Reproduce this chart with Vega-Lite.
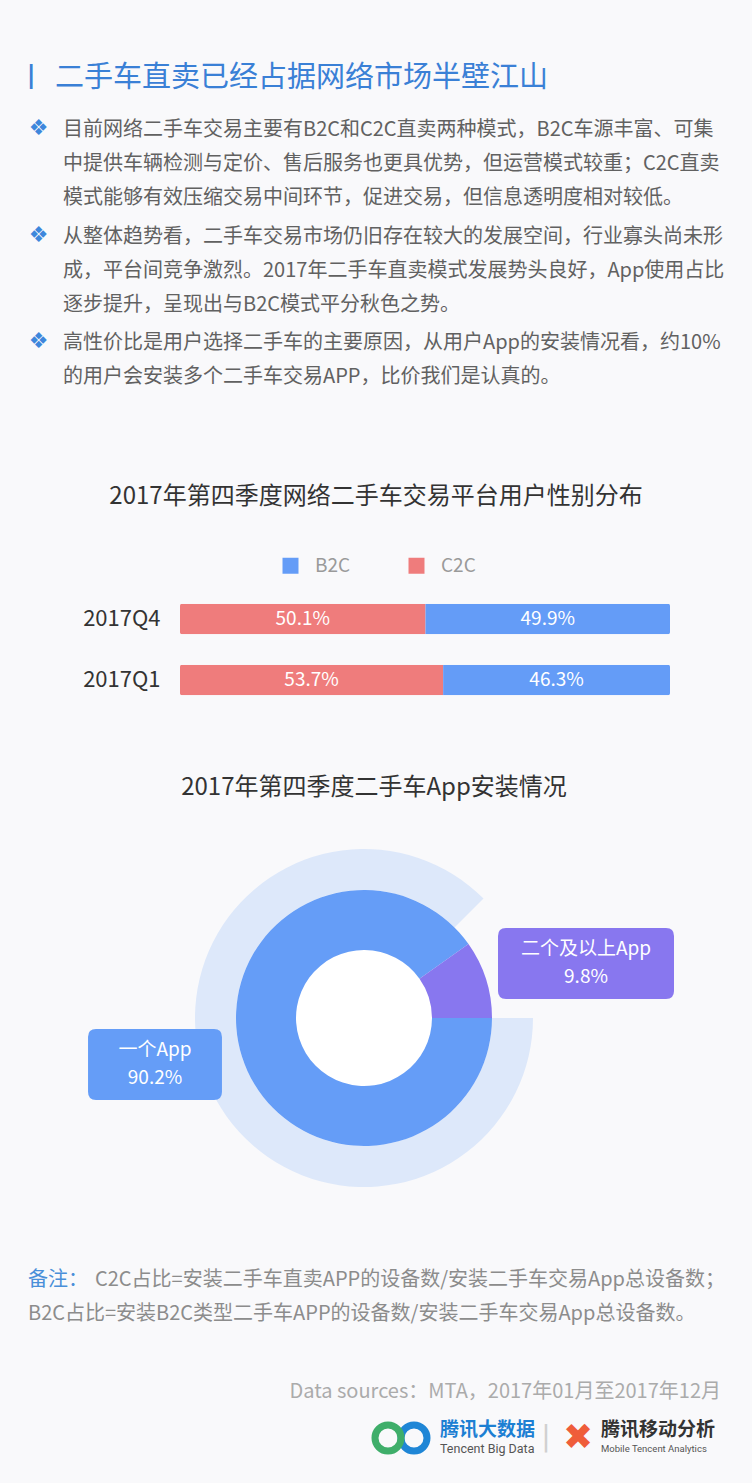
{
  "$schema": "https://vega.github.io/schema/vega-lite/v6.json",
  "background": "#f9f9fb",
  "padding": 0,
  "spacing": 0,
  "resolve": {"scale": {"color": "independent", "size": "independent", "shape": "independent"}, "legend": {"color": "independent"}},
  "config": {
    "view": {"stroke": null},
    "font": "Noto Sans CJK SC",
    "text": {"font": "Noto Sans CJK SC"},
    "title": {"font": "Noto Sans CJK SC", "fontWeight": "normal", "fontSize": 24, "color": "#333333"},
    "concat": {"spacing": 0}
  },
  "datasets": {
    "paragraphs": [
      {"para": 1, "lines": ["目前网络二手车交易主要有B2C和C2C直卖两种模式，B2C车源丰富、可集", "中提供车辆检测与定价、售后服务也更具优势，但运营模式较重；C2C直卖", "模式能够有效压缩交易中间环节，促进交易，但信息透明度相对较低。"]},
      {"para": 2, "lines": ["从整体趋势看，二手车交易市场仍旧存在较大的发展空间，行业寡头尚未形", "成，平台间竞争激烈。2017年二手车直卖模式发展势头良好，App使用占比", "逐步提升，呈现出与B2C模式平分秋色之势。"]},
      {"para": 3, "lines": ["高性价比是用户选择二手车的主要原因，从用户App的安装情况看，约10%", "的用户会安装多个二手车交易APP，比价我们是认真的。"]}
    ],
    "platform": [
      {"quarter": "2017Q4", "type": "C2C", "share": 0.501},
      {"quarter": "2017Q4", "type": "B2C", "share": 0.499},
      {"quarter": "2017Q1", "type": "C2C", "share": 0.537},
      {"quarter": "2017Q1", "type": "B2C", "share": 0.463}
    ],
    "install": [
      {"app": "一个App", "share": 0.902},
      {"app": "二个及以上App", "share": 0.098}
    ],
    "logos": [
      {"brand": "腾讯大数据", "en": "Tencent Big Data"},
      {"brand": "腾讯移动分析", "en": "Mobile Tencent Analytics"}
    ]
  },
  "vconcat": [
    {
      "width": 752,
      "height": 485,
      "resolve": {"scale": {"x": "independent", "y": "independent"}},
      "layer": [
        {
          "data": {"values": [{"heading": "二手车直卖已经占据网络市场半壁江山"}]},
          "mark": {"type": "text", "align": "left", "baseline": "middle", "fontSize": 29, "color": "#3a80d6"},
          "encoding": {
            "x": {"field": "heading", "type": "nominal", "scale": {"type": "point", "range": [55, 55], "padding": 0}, "axis": null},
            "y": {"field": "heading", "type": "nominal", "scale": {"type": "point", "range": [78, 78], "padding": 0}, "axis": null},
            "text": {"field": "heading"}
          }
        },
        {
          "data": {"values": [{"marker": "|"}]},
          "mark": {"type": "text", "align": "center", "baseline": "middle", "font": "DejaVu Sans", "fontWeight": "bold", "fontSize": 24, "color": "#3a80d6"},
          "encoding": {
            "x": {"field": "marker", "type": "nominal", "scale": {"type": "point", "range": [31, 31], "padding": 0}, "axis": null},
            "y": {"field": "marker", "type": "nominal", "scale": {"type": "point", "range": [76, 76], "padding": 0}, "axis": null},
            "text": {"field": "marker"}
          }
        },
        {
          "data": {"name": "paragraphs"},
          "mark": {"type": "text", "text": "❖", "align": "center", "baseline": "middle", "font": "DejaVu Sans", "fontSize": 22, "color": "#3d87dc"},
          "encoding": {
            "x": {"field": "para", "type": "ordinal", "scale": {"type": "point", "range": [38.5, 38.5], "padding": 0}, "axis": null},
            "y": {"field": "para", "type": "ordinal", "scale": {"type": "point", "range": [128, 341], "padding": 0}, "axis": null}
          }
        },
        {
          "data": {"name": "paragraphs"},
          "mark": {"type": "text", "align": "left", "baseline": "top", "fontSize": 20, "lineHeight": 34, "color": "#616161"},
          "encoding": {
            "x": {"field": "para", "type": "ordinal", "scale": {"type": "point", "range": [63, 63], "padding": 0}, "axis": null},
            "y": {"field": "para", "type": "ordinal", "scale": {"type": "point", "range": [120, 333], "padding": 0}, "axis": null},
            "text": {"field": "lines"}
          }
        }
      ]
    },
    {
      "title": {"text": "2017年第四季度网络二手车交易平台用户性别分布", "offset": 11, "anchor": "middle"},
      "width": 752,
      "height": 256,
      "data": {"name": "platform"},
      "layer": [
        {
          "mark": {"type": "bar", "cornerRadius": 2},
          "encoding": {
            "y": {"field": "quarter", "type": "nominal", "scale": {"domain": ["2017Q4", "2017Q1"], "range": [68.5, 190.5], "paddingInner": 0.5, "paddingOuter": 0.25},
                  "axis": {"title": null, "domain": false, "ticks": false, "labelFontSize": 22, "labelColor": "#333333", "labelPadding": 6, "offset": -166, "labelFont": "Noto Sans CJK SC"}},
            "x": {"field": "share", "type": "quantitative", "stack": "zero", "scale": {"domain": [0, 1], "range": [180, 670]}, "axis": null},
            "order": {"field": "type", "sort": "descending"},
            "color": {"field": "type", "type": "nominal", "scale": {"domain": ["B2C", "C2C"], "range": ["#649cf7", "#ef7c7c"]},
                      "legend": {"orient": "none", "legendX": 281, "legendY": 36, "direction": "horizontal", "title": null, "symbolType": "square", "symbolSize": 256, "symbolStrokeWidth": 0, "symbolOpacity": 1, "labelFontSize": 19, "labelColor": "#9a9a9a", "labelOffset": 15, "columnPadding": 56, "padding": 0, "labelFont": "Noto Sans CJK SC"}}
          }
        },
        {
          "mark": {"type": "text", "color": "white", "fontSize": 19, "align": "center", "baseline": "middle"},
          "encoding": {
            "y": {"field": "quarter", "type": "nominal"},
            "x": {"field": "share", "type": "quantitative", "stack": "zero", "bandPosition": 0.5},
            "order": {"field": "type", "sort": "descending"},
            "detail": {"field": "type"},
            "text": {"field": "share", "type": "quantitative", "format": ".1%"}
          }
        }
      ]
    },
    {
      "title": {"text": "2017年第四季度二手车App安装情况", "offset": 10, "anchor": "middle", "dx": 10},
      "width": 728,
      "height": 416,
      "data": {"name": "install"},
      "layer": [
        {
          "data": {"values": [{"ring": "背景"}]},
          "mark": {"type": "arc", "theta": 1.5708, "theta2": 7.0686, "radius": 169, "innerRadius": 128, "color": "#dde8fa"},
          "encoding": {}
        },
        {
          "data": {"values": [{"ring": "中心"}]},
          "mark": {"type": "arc", "theta": 0, "theta2": 6.2832, "radius": 68, "innerRadius": 0, "color": "#ffffff"},
          "encoding": {}
        },
        {
          "mark": {"type": "arc", "radius": 128, "innerRadius": 68},
          "encoding": {
            "theta": {"field": "share", "type": "quantitative", "stack": true, "scale": {"domain": [0, 1], "range": [1.5708, 7.854]}},
            "color": {"field": "app", "type": "nominal", "scale": {"domain": ["一个App", "二个及以上App"], "range": ["#659df7", "#8877ef"]}, "legend": null},
            "order": {"field": "app", "sort": "ascending"}
          }
        },
        {
          "mark": {"type": "point", "filled": true, "opacity": 1, "size": 30976, "strokeWidth": 0},
          "encoding": {
            "x": {"field": "app", "type": "nominal", "scale": {"type": "point", "domain": ["一个App", "二个及以上App"], "range": [155, 586], "padding": 0}, "axis": null},
            "y": {"field": "app", "type": "nominal", "scale": {"type": "point", "domain": ["二个及以上App", "一个App"], "range": [153.5, 254.5], "padding": 0}, "axis": null},
            "color": {"field": "app", "type": "nominal", "legend": null},
            "shape": {"field": "app", "type": "nominal", "scale": {"domain": ["一个App", "二个及以上App"], "range": [
              "M -0.671 -0.403 L 0.671 -0.403 Q 0.761 -0.403 0.761 -0.313 L 0.761 0.313 Q 0.761 0.403 0.671 0.403 L -0.671 0.403 Q -0.761 0.403 -0.761 0.313 L -0.761 -0.313 Q -0.761 -0.403 -0.671 -0.403 Z",
              "M -0.91 -0.403 L 0.91 -0.403 Q 1 -0.403 1 -0.313 L 1 0.313 Q 1 0.403 0.91 0.403 L -0.91 0.403 Q -1 0.403 -1 0.313 L -1 -0.313 Q -1 -0.403 -0.91 -0.403 Z"
            ]}, "legend": null}
          }
        },
        {
          "mark": {"type": "text", "color": "white", "fontSize": 19, "align": "center", "baseline": "bottom", "dy": -5},
          "encoding": {
            "x": {"field": "app", "type": "nominal", "axis": null},
            "y": {"field": "app", "type": "nominal", "axis": null},
            "text": {"field": "app"}
          }
        },
        {
          "mark": {"type": "text", "color": "white", "fontSize": 19, "align": "center", "baseline": "top", "dy": 4},
          "encoding": {
            "x": {"field": "app", "type": "nominal", "axis": null},
            "y": {"field": "app", "type": "nominal", "axis": null},
            "text": {"field": "share", "type": "quantitative", "format": ".1%"}
          }
        }
      ]
    },
    {
      "width": 752,
      "height": 257,
      "resolve": {"scale": {"x": "independent", "y": "independent", "color": "independent", "size": "independent"}},
      "layer": [
        {
          "data": {"values": [{"note": "备注："}]},
          "mark": {"type": "text", "align": "left", "baseline": "middle", "fontSize": 20, "color": "#4a8fd9"},
          "encoding": {
            "x": {"field": "note", "type": "nominal", "scale": {"type": "point", "range": [28, 28], "padding": 0}, "axis": null},
            "y": {"field": "note", "type": "nominal", "scale": {"type": "point", "range": [54, 54], "padding": 0}, "axis": null},
            "text": {"field": "note"}
          }
        },
        {
          "data": {"values": [{"note": "C2C占比=安装二手车直卖APP的设备数/安装二手车交易App总设备数；"}]},
          "mark": {"type": "text", "align": "left", "baseline": "middle", "fontSize": 20, "color": "#8c8c8c"},
          "encoding": {
            "x": {"field": "note", "type": "nominal", "scale": {"type": "point", "range": [95, 95], "padding": 0}, "axis": null},
            "y": {"field": "note", "type": "nominal", "scale": {"type": "point", "range": [54, 54], "padding": 0}, "axis": null},
            "text": {"field": "note"}
          }
        },
        {
          "data": {"values": [{"note": "B2C占比=安装B2C类型二手车APP的设备数/安装二手车交易App总设备数。"}]},
          "mark": {"type": "text", "align": "left", "baseline": "middle", "fontSize": 20, "color": "#8c8c8c"},
          "encoding": {
            "x": {"field": "note", "type": "nominal", "scale": {"type": "point", "range": [28, 28], "padding": 0}, "axis": null},
            "y": {"field": "note", "type": "nominal", "scale": {"type": "point", "range": [88, 88], "padding": 0}, "axis": null},
            "text": {"field": "note"}
          }
        },
        {
          "data": {"values": [{"source": "Data sources：MTA，2017年01月至2017年12月"}]},
          "mark": {"type": "text", "align": "right", "baseline": "middle", "fontSize": 20, "color": "#ababab"},
          "encoding": {
            "x": {"field": "source", "type": "nominal", "scale": {"type": "point", "range": [721, 721], "padding": 0}, "axis": null},
            "y": {"field": "source", "type": "nominal", "scale": {"type": "point", "range": [166, 166], "padding": 0}, "axis": null},
            "text": {"field": "source"}
          }
        },
        {
          "data": {"name": "logos"},
          "mark": {"type": "text", "align": "left", "baseline": "middle", "fontSize": 19, "fontWeight": "bold"},
          "encoding": {
            "x": {"field": "brand", "type": "nominal", "scale": {"type": "point", "domain": ["腾讯大数据", "腾讯移动分析"], "range": [440, 601], "padding": 0}, "axis": null},
            "y": {"field": "brand", "type": "nominal", "scale": {"type": "point", "range": [204, 204], "padding": 0}, "axis": null},
            "color": {"field": "brand", "type": "nominal", "scale": {"domain": ["腾讯大数据", "腾讯移动分析"], "range": ["#1c7fd3", "#333333"]}, "legend": null},
            "text": {"field": "brand"}
          }
        },
        {
          "data": {"name": "logos"},
          "mark": {"type": "text", "align": "left", "baseline": "middle", "font": "Roboto"},
          "encoding": {
            "x": {"field": "brand", "type": "nominal", "scale": {"type": "point", "domain": ["腾讯大数据", "腾讯移动分析"], "range": [440, 601], "padding": 0}, "axis": null},
            "y": {"field": "brand", "type": "nominal", "scale": {"type": "point", "range": [223, 223], "padding": 0}, "axis": null},
            "size": {"field": "brand", "type": "ordinal", "scale": {"domain": ["腾讯大数据", "腾讯移动分析"], "range": [12.5, 9.5]}, "legend": null},
            "color": {"value": "#555555"},
            "text": {"field": "en"}
          }
        },
        {
          "data": {"values": [{"loop": "蓝"}, {"loop": "绿"}]},
          "mark": {"type": "point", "shape": "circle", "filled": false, "size": 676, "strokeWidth": 7, "opacity": 1},
          "encoding": {
            "x": {"field": "loop", "type": "nominal", "scale": {"type": "point", "range": [388, 414], "padding": 0}, "axis": null},
            "y": {"field": "loop", "type": "nominal", "scale": {"type": "point", "range": [212, 212], "padding": 0}, "axis": null},
            "color": {"field": "loop", "type": "nominal", "scale": {"domain": ["蓝", "绿"], "range": ["#1f86d6", "#3fae6a"]}, "legend": null}
          }
        },
        {
          "data": {"values": [{"icon": "|"}]},
          "mark": {"type": "text", "align": "center", "baseline": "middle", "font": "DejaVu Sans", "fontSize": 28, "color": "#d0d0d0"},
          "encoding": {
            "x": {"field": "icon", "type": "nominal", "scale": {"type": "point", "range": [546, 546], "padding": 0}, "axis": null},
            "y": {"field": "icon", "type": "nominal", "scale": {"type": "point", "range": [212, 212], "padding": 0}, "axis": null},
            "text": {"field": "icon"}
          }
        },
        {
          "data": {"values": [{"icon": "✖"}]},
          "mark": {"type": "text", "align": "center", "baseline": "middle", "font": "DejaVu Sans", "fontSize": 36, "color": "#ef5d3a"},
          "encoding": {
            "x": {"field": "icon", "type": "nominal", "scale": {"type": "point", "range": [578, 578], "padding": 0}, "axis": null},
            "y": {"field": "icon", "type": "nominal", "scale": {"type": "point", "range": [212, 212], "padding": 0}, "axis": null},
            "text": {"field": "icon"}
          }
        }
      ]
    }
  ]
}
